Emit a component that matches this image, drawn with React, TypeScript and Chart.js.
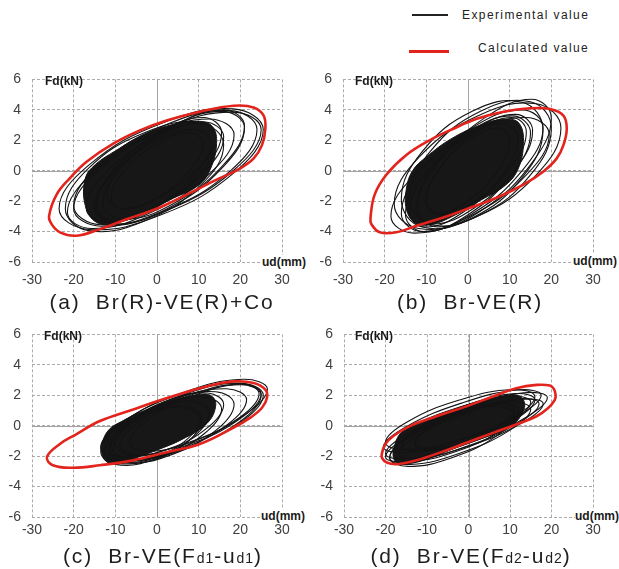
import React, { useEffect, useRef } from "react";
import { Chart, registerables } from "chart.js";
Chart.register(...registerables);

type Pt = [number, number];

const X_TICKS = [-30, -20, -10, 0, 10, 20, 30];
const Y_TICKS = [-6, -4, -2, 0, 2, 4, 6];
const LEGEND_LABELS = ["Experimental value", "Calculated value"];
const X_LABEL = "ud(mm)";
const Y_LABEL = "Fd(kN)";

const RED = "#e3241d";
const BLACK = "#141414";
const FONT = '"Liberation Sans", Arial, sans-serif';

// ---------- Panel (a) Br(R)-VE(R)+Co ----------
const redA: Pt[] = [[26.0, 2.76], [25.6, 3.62], [23.2, 4.16], [18.4, 4.27], [10.3, 3.88], [2.3, 3.3], [-4.1, 2.65], [-10.5, 1.78], [-16.9, 0.59], [-20.9, -0.49], [-24.1, -1.57], [-25.9, -2.97], [-25.3, -3.51], [-23.3, -4.05], [-19.3, -4.27], [-13.7, -3.84], [-7.3, -3.19], [-0.1, -2.5], [7.1, -1.57], [14.3, -0.59], [20.0, 0.16], [23.2, 0.81], [25.2, 1.68]];
const coreA: Pt[] = [[-17.2, -0.5], [-14.8, 0.4], [-10, 1.3], [-3, 2.4], [4, 3.05], [10, 3.25], [13.3, 2.9], [14.3, 1.8], [12.8, 0.1], [10, -0.95], [4, -1.8], [-3, -2.7], [-10, -3.45], [-14.5, -3.4], [-17.2, -2.3]];
const loopsA: Pt[][] = [
  [[25.5, 2.7], [18.3, 4.06], [1, 3.1], [-16.3, 0.38], [-23.5, -2.5], [-16.3, -3.86], [1, -2.9], [18.3, -0.18]],
  [[24, 2.7], [17.6, 3.95], [2, 3.0], [-13.6, 0.41], [-20, -2.3], [-13.6, -3.55], [2, -2.6], [17.6, -0.01]],
  [[18.5, 2.35], [12.6, 3.4], [-1.5, 2.35], [-15.6, -0.2], [-21.5, -2.75], [-15.6, -3.8], [-1.5, -2.75], [12.6, -0.2]],
  [[21, 2.82], [15.7, 3.9], [3, 2.82], [-9.7, 0.2], [-15, -2.42], [-9.7, -3.5], [3, -2.42], [15.7, 0.2]],
  [[16, 2.23], [11.2, 3.2], [-0.5, 2.23], [-12.2, -0.1], [-17, -2.43], [-12.2, -3.4], [-0.5, -2.43], [11.2, -0.1]],
  [[15.5, 2.5], [11.1, 3.5], [0.5, 2.5], [-10.1, 0.1], [-14.5, -2.3], [-10.1, -3.3], [0.5, -2.3], [11.1, 0.1]],
  [[13, 1.82], [8.9, 2.7], [-1, 1.82], [-10.9, -0.3], [-15, -2.42], [-10.9, -3.3], [-1, -2.42], [8.9, -0.3]],
  [[14, 2.28], [10.2, 3.1], [1, 2.28], [-8.2, 0.3], [-12, -1.68], [-8.2, -2.5], [1, -1.68], [10.2, 0.3]],
  [[25, 2.7], [18.4, 3.85], [2.5, 2.8], [-13.4, 0.17], [-20, -2.5], [-13.4, -3.65], [2.5, -2.6], [18.4, 0.03]],
  [[16, 1.7], [10.4, 3.14], [-3, 2.5], [-16.4, 0.17], [-22, -2.5], [-16.4, -3.94], [-3, -3.3], [10.4, -0.97]],
  [[11, 1.77], [7.8, 2.5], [0, 1.77], [-7.8, 0], [-11, -1.77], [-7.8, -2.5], [0, -1.77], [7.8, 0]],
  [[21, 2.95], [16, 4.0], [4, 2.95], [-8, 0.4], [-13, -2.15], [-8, -3.2], [4, -2.15], [16, 0.4]],
];

// ---------- Panel (b) Br-VE(R) ----------
const redB: Pt[] = [[23.7, 2.76], [22.9, 3.62], [19.7, 4.05], [14.9, 4.1], [8.5, 3.88], [2.1, 3.41], [-3.5, 2.76], [-9.2, 2.0], [-14.8, 1.03], [-19.6, -0.27], [-22.4, -1.57], [-23.4, -3.08], [-23.2, -3.51], [-21.2, -4.05], [-17.2, -4.05], [-12.4, -3.62], [-5.9, -3.08], [0.5, -2.43], [6.9, -1.78], [13.3, -0.92], [18.1, -0.05], [21.3, 0.81], [22.9, 1.68]];
const coreB: Pt[] = [[-14.8, -1.2], [-13.3, 0], [-10, 0.9], [-4, 2.1], [3, 3.0], [9, 3.4], [12.3, 3.1], [13.3, 1.8], [12, 0.1], [9, -0.95], [3, -1.95], [-3, -2.9], [-9, -3.55], [-12.8, -3.4], [-14.8, -2.5]];
const loopsB: Pt[][] = [
  [[22.3, 2.8], [16.4, 4.4], [2.3, 3.6], [-11.8, 0.87], [-17.7, -2.2], [-11.8, -3.8], [2.3, -3.0], [16.4, -0.27]],
  [[20, 2.8], [15, 4.53], [3, 3.9], [-9, 1.28], [-14, -1.8], [-9, -3.53], [3, -2.9], [15, -0.28]],
  [[18, 2.83], [13, 4.0], [1, 2.83], [-11, 0], [-16, -2.83], [-11, -4.0], [1, -2.83], [13, 0]],
  [[20, 3.47], [15.3, 4.7], [4, 3.47], [-7.3, 0.5], [-12, -2.47], [-7.3, -3.7], [4, -2.47], [15.3, 0.5]],
  [[15, 2.49], [10.6, 3.6], [0, 2.49], [-10.6, -0.2], [-15, -2.89], [-10.6, -4.0], [0, -2.89], [10.6, -0.2]],
  [[15.5, 2.65], [11.4, 3.7], [1.5, 2.65], [-8.4, 0.1], [-12.5, -2.45], [-8.4, -3.5], [1.5, -2.45], [11.4, 0.1]],
  [[12, 2.1], [8.2, 3.1], [-1, 2.1], [-10.2, -0.3], [-14, -2.7], [-10.2, -3.7], [-1, -2.7], [8.2, -0.3]],
  [[14, 2.56], [10.5, 3.5], [2, 2.56], [-6.5, 0.3], [-10, -1.96], [-6.5, -2.9], [2, -1.96], [10.5, 0.3]],
  [[19.5, 2.39], [13.9, 3.5], [0.5, 2.39], [-12.9, -0.3], [-18.5, -2.99], [-12.9, -4.1], [0.5, -2.99], [13.9, -0.3]],
  [[10, 1.98], [7.1, 2.8], [0, 1.98], [-7.1, 0], [-10, -1.98], [-7.1, -2.8], [0, -1.98], [7.1, 0]],
  [[18, 2.7], [13, 4.5], [1, 3.9], [-11, 1.25], [-16, -1.9], [-11, -3.7], [1, -3.1], [13, -0.45]],
];

// ---------- Panel (c) Br-VE(Fd1-ud1) ----------
const redC: Pt[] = [[26.4, 1.83], [26.0, 2.37], [23.2, 2.8], [18.4, 2.91], [11.9, 2.58], [6.3, 2.15], [0, 1.61], [-5.7, 1.07], [-13.7, 0.31], [-19.3, -0.55], [-23.3, -1.2], [-26.4, -2.05], [-25.0, -2.6], [-20.1, -2.76], [-13.7, -2.6], [-5.7, -2.28], [2.3, -1.74], [10.3, -1.2], [18.4, -0.12], [22.4, 0.53], [25.2, 1.18]];
const coreC: Pt[] = [[-13.2, -1.4], [-11.8, -0.35], [-8, 0.35], [-3, 1.0], [3, 1.6], [9, 2.0], [12.8, 2.0], [14.1, 1.35], [12, 0.15], [6, -0.9], [0, -1.6], [-6, -2.2], [-10.5, -2.5], [-12.7, -2.2]];
const loopsC: Pt[][] = [
  [[25.5, 2.0], [19.8, 2.8], [6, 2.1], [-7.8, 0.32], [-13.5, -1.5], [-7.8, -2.3], [6, -1.6], [19.8, 0.18]],
  [[25, 2.0], [19.7, 2.77], [7, 2.1], [-5.7, 0.37], [-11, -1.4], [-5.7, -2.17], [7, -1.5], [19.7, 0.23]],
  [[21.5, 1.7], [16.7, 2.43], [5, 1.8], [-6.7, 0.17], [-11.5, -1.5], [-6.7, -2.23], [5, -1.6], [16.7, 0.03]],
  [[18.5, 1.4], [14.1, 2.23], [3.5, 1.7], [-7.1, 0.11], [-11.5, -1.6], [-7.1, -2.43], [3.5, -1.9], [14.1, -0.31]],
  [[15.5, 1.1], [11.4, 1.89], [1.5, 1.4], [-8.4, -0.09], [-12.5, -1.7], [-8.4, -2.49], [1.5, -2.0], [11.4, -0.51]],
  [[16, 1.4], [12.2, 2.15], [3, 1.7], [-6.2, 0.31], [-10, -1.2], [-6.2, -1.95], [3, -1.5], [12.2, -0.11]],
  [[12.5, 0.8], [9, 1.58], [0.5, 1.2], [-8, -0.12], [-11.5, -1.6], [-8, -2.38], [0.5, -2.0], [9, -0.68]],
  [[25, 2.1], [20, 2.73], [8, 2.0], [-4, 0.33], [-9, -1.3], [-4, -1.93], [8, -1.2], [20, 0.47]],
  [[10.5, 0.5], [7.4, 1.27], [0, 1.0], [-7.4, -0.15], [-10.5, -1.5], [-7.4, -2.27], [0, -2.0], [7.4, -0.85]],
  [[24.5, 2.1], [20, 2.69], [9, 2.0], [-2, 0.43], [-6.5, -1.1], [-2, -1.69], [9, -1.0], [20, 0.57]],
  [[10.5, 0.3], [7, 1.14], [-1.5, 0.9], [-10, -0.28], [-13.5, -1.7], [-10, -2.54], [-1.5, -2.3], [7, -1.12]],
  [[26.5, 2.4], [20.6, 3.05], [6.5, 2.2], [-7.6, 0.36], [-13.5, -1.4], [-7.6, -2.05], [6.5, -1.2], [20.6, 0.64]],
];

// ---------- Panel (d) Br-VE(Fd2-ud2) ----------
const redD: Pt[] = [[21.0, 2.0], [20.6, 2.4], [19.6, 2.64], [16.4, 2.68], [11.5, 2.46], [5.9, 1.92], [-0.5, 1.27], [-7.7, 0.62], [-14.1, -0.03], [-18.1, -0.68], [-20.1, -1.23], [-20.9, -1.88], [-20.8, -2.14], [-19.7, -2.42], [-17.3, -2.53], [-12.5, -2.27], [-6.9, -1.77], [-0.5, -1.12], [5.9, -0.47], [11.5, 0.08], [16.4, 0.62], [19.2, 1.16], [20.8, 1.7]];
const coreD: Pt[] = [[-17.8, -1.3], [-15.8, -0.35], [-10, 0.45], [-3, 1.15], [4, 1.7], [10, 2.0], [12.8, 1.85], [13.4, 1.1], [10, -0.1], [4, -0.75], [-3, -1.45], [-10, -2.2], [-15, -2.5], [-17.8, -2.3]];
const loopsD: Pt[][] = [
  [[19, 1.85], [13.3, 2.16], [-0.5, 1.2], [-14.3, -0.46], [-20, -1.85], [-14.3, -2.16], [-0.5, -1.2], [13.3, 0.46]],
  [[17, 1.45], [11.6, 1.75], [-1.5, 0.85], [-14.6, -0.72], [-20, -2.05], [-14.6, -2.35], [-1.5, -1.45], [11.6, 0.12]],
  [[15, 1.1], [10, 1.55], [-2, 0.8], [-14, -0.71], [-19, -2.1], [-14, -2.55], [-2, -1.8], [10, -0.29]],
  [[16, 1.7], [11.3, 2.11], [0, 1.4], [-11.3, -0.01], [-16, -1.3], [-11.3, -1.71], [0, -1.0], [11.3, 0.41]],
  [[12, 1.0], [7.6, 1.51], [-3, 0.9], [-13.6, -0.47], [-18, -1.8], [-13.6, -2.31], [-3, -1.7], [7.6, -0.33]],
  [[15, 1.55], [10.9, 1.93], [1, 1.3], [-8.9, 0.02], [-13, -1.15], [-8.9, -1.53], [1, -0.9], [10.9, 0.38]],
  [[17.5, 2.0], [11.9, 2.35], [-1.5, 1.5], [-14.9, -0.05], [-20.5, -1.4], [-14.9, -1.75], [-1.5, -0.9], [11.9, 0.65]],
  [[11, 1.05], [7.5, 1.42], [-1, 0.9], [-9.5, -0.21], [-13, -1.25], [-9.5, -1.62], [-1, -1.1], [7.5, 0.01]],
  [[18, 1.45], [12.9, 1.74], [0.5, 0.9], [-11.9, -0.59], [-17, -1.85], [-11.9, -2.14], [0.5, -1.3], [12.9, 0.19]],
  [[11, 0.7], [6.6, 1.28], [-4, 0.7], [-14.6, -0.7], [-19, -2.1], [-14.6, -2.68], [-4, -2.1], [6.6, -0.7]],
  [[16, 1.9], [10.7, 2.38], [-2, 1.7], [-14.7, 0.26], [-20, -1.1], [-14.7, -1.58], [-2, -0.9], [10.7, 0.54]],
];

const toXY = (pts: Pt[]) => pts.map(([x, y]) => ({ x, y }));

// draw the loop datasets as closed smooth curves
const closeLoops = {
  id: "closeLoops",
  afterDatasetUpdate(chart: any, args: any) {
    const ds = chart.data.datasets[args.index];
    const line = args.meta.dataset;
    if (ds && ds.closedLoop && line) {
      line._loop = true;
      line._fullLoop = true;
    }
  },
};

const zeroLines = {
  id: "zeroLines",
  beforeDatasetsDraw(chart: any) {
    const { ctx, chartArea: a, scales } = chart;
    const px = Math.round(scales.x.getPixelForValue(0)) + 0.5;
    const py = Math.round(scales.y.getPixelForValue(0)) + 0.5;
    ctx.save();
    ctx.strokeStyle = "#a3a3a3";
    ctx.lineWidth = 1;
    ctx.setLineDash([]);
    ctx.beginPath();
    ctx.moveTo(px, a.top);
    ctx.lineTo(px, a.bottom);
    ctx.moveTo(a.left, py);
    ctx.lineTo(a.right, py);
    ctx.stroke();
    ctx.restore();
  },
};

type PanelProps = {
  left: number;
  top: number;
  yWidth: number;
  padRight: number;
  xPad: number;
  red: Pt[];
  core: Pt[];
  loops: Pt[][];
};

const CW = 309;
const CH = 232;

function Panel({ left, top, yWidth, padRight, xPad, red, core, loops }: PanelProps) {
  const ref = useRef<HTMLCanvasElement>(null);
  useEffect(() => {
    if (!ref.current) return;
    const datasets: any[] = [
      { data: toXY(red), closedLoop: true, borderColor: RED, borderWidth: 2.6, tension: 0.4, showLine: true, pointRadius: 0, fill: false },
      ...loops.map((l) => ({ data: toXY(l), closedLoop: true, borderColor: BLACK, borderWidth: 1.1, tension: 0.42, showLine: true, pointRadius: 0, fill: false })),
      { data: toXY(core), closedLoop: true, borderColor: BLACK, backgroundColor: "#171717", borderWidth: 1, tension: 0.4, showLine: true, pointRadius: 0, fill: "shape" },
    ];
    const tickFont = { family: FONT, size: 14 };
    const chart = new Chart(ref.current, {
      type: "scatter",
      data: { datasets },
      options: {
        responsive: false,
        animation: false,
        devicePixelRatio: 1,
        events: [],
        layout: { padding: { left: 0, right: padRight, top: 17, bottom: 0 } },
        plugins: { legend: { display: false }, tooltip: { enabled: false } },
        scales: {
          x: {
            type: "linear",
            min: X_TICKS[0],
            max: X_TICKS[X_TICKS.length - 1],
            ticks: { stepSize: X_TICKS[1] - X_TICKS[0], padding: xPad, color: "#404040", font: tickFont },
            grid: { color: "#ababab", lineWidth: 1, drawTicks: false, borderDash: [3, 2] } as any,
            border: { display: false, dash: [3, 2] },
            afterFit: (s: any) => { s.height = 30; },
          },
          y: {
            type: "linear",
            min: Y_TICKS[0],
            max: Y_TICKS[Y_TICKS.length - 1],
            ticks: { stepSize: Y_TICKS[1] - Y_TICKS[0], padding: 11, color: "#404040", font: tickFont },
            grid: { color: "#ababab", lineWidth: 1, drawTicks: false, borderDash: [3, 2] } as any,
            border: { display: false, dash: [3, 2] },
            afterFit: (s: any) => { s.width = yWidth; },
          },
        },
      } as any,
      plugins: [closeLoops, zeroLines],
    });
    return () => chart.destroy();
  }, []);
  return (
    <canvas
      ref={ref}
      width={CW}
      height={CH}
      style={{ position: "absolute", left, top, width: CW, height: CH }}
    />
  );
}

const axisLabel: React.CSSProperties = {
  position: "absolute",
  fontFamily: FONT,
  fontWeight: "bold",
  fontSize: 12,
  lineHeight: "14px",
  color: "#1a1a1a",
  whiteSpace: "nowrap",
};

const titleStyle: React.CSSProperties = {
  position: "absolute",
  width: 320,
  textAlign: "center",
  fontFamily: FONT,
  fontSize: 21,
  lineHeight: "24px",
  letterSpacing: "1.8px",
  color: "#1e1e1e",
  whiteSpace: "nowrap",
};

const sub: React.CSSProperties = { fontSize: 14, letterSpacing: "1px" };

export default function App() {
  return (
    <div style={{ position: "absolute", left: 0, top: 0, width: 619, height: 569, background: "#fff", overflow: "hidden" }}>
      <Panel left={0} top={60} yWidth={32} padRight={27} xPad={10} red={redA} core={coreA} loops={loopsA} />
      <Panel left={310} top={60} yWidth={33} padRight={26} xPad={10} red={redB} core={coreB} loops={loopsB} />
      <Panel left={0} top={315} yWidth={32} padRight={27} xPad={5} red={redC} core={coreC} loops={loopsC} />
      <Panel left={310} top={315} yWidth={34} padRight={26} xPad={5} red={redD} core={coreD} loops={loopsD} />

      {/* axis name labels */}
      <div style={{ ...axisLabel, left: 45, top: 74 }}>{Y_LABEL}</div>
      <div style={{ ...axisLabel, left: 355, top: 74 }}>{Y_LABEL}</div>
      <div style={{ ...axisLabel, left: 44, top: 329 }}>{Y_LABEL}</div>
      <div style={{ ...axisLabel, left: 355, top: 329 }}>{Y_LABEL}</div>
      <div style={{ ...axisLabel, left: 262, top: 255, background: "#fff" }}>{X_LABEL}</div>
      <div style={{ ...axisLabel, left: 573, top: 254, background: "#fff" }}>{X_LABEL}</div>
      <div style={{ ...axisLabel, left: 261, top: 509, background: "#fff" }}>{X_LABEL}</div>
      <div style={{ ...axisLabel, left: 575, top: 509, background: "#fff" }}>{X_LABEL}</div>

      {/* titles */}
      <div style={{ ...titleStyle, left: 162 - 160, top: 290 }}>(a)&nbsp; Br(R)-VE(R)+Co</div>
      <div style={{ ...titleStyle, left: 470 - 160, top: 290 }}>(b)&nbsp; Br-VE(R)</div>
      <div style={{ ...titleStyle, left: 163 - 160, top: 544 }}>
        (c)&nbsp; Br-VE(F<span style={sub}>d1</span>-u<span style={sub}>d1</span>)
      </div>
      <div style={{ ...titleStyle, left: 471 - 160, top: 544 }}>
        (d)&nbsp; Br-VE(F<span style={sub}>d2</span>-u<span style={sub}>d2</span>)
      </div>

      {/* legend */}
      <div style={{ position: "absolute", left: 412, top: 14, width: 36, height: 2, background: "#222" }} />
      <div style={{ position: "absolute", left: 462, top: 7, fontFamily: FONT, fontSize: 12, lineHeight: "16px", letterSpacing: "1.4px", color: "#222", whiteSpace: "nowrap" }}>
        {LEGEND_LABELS[0]}
      </div>
      <div style={{ position: "absolute", left: 409, top: 50, width: 40, height: 3, background: RED }} />
      <div style={{ position: "absolute", left: 478, top: 40, fontFamily: FONT, fontSize: 12, lineHeight: "16px", letterSpacing: "1.4px", color: "#222", whiteSpace: "nowrap" }}>
        {LEGEND_LABELS[1]}
      </div>
    </div>
  );
}
